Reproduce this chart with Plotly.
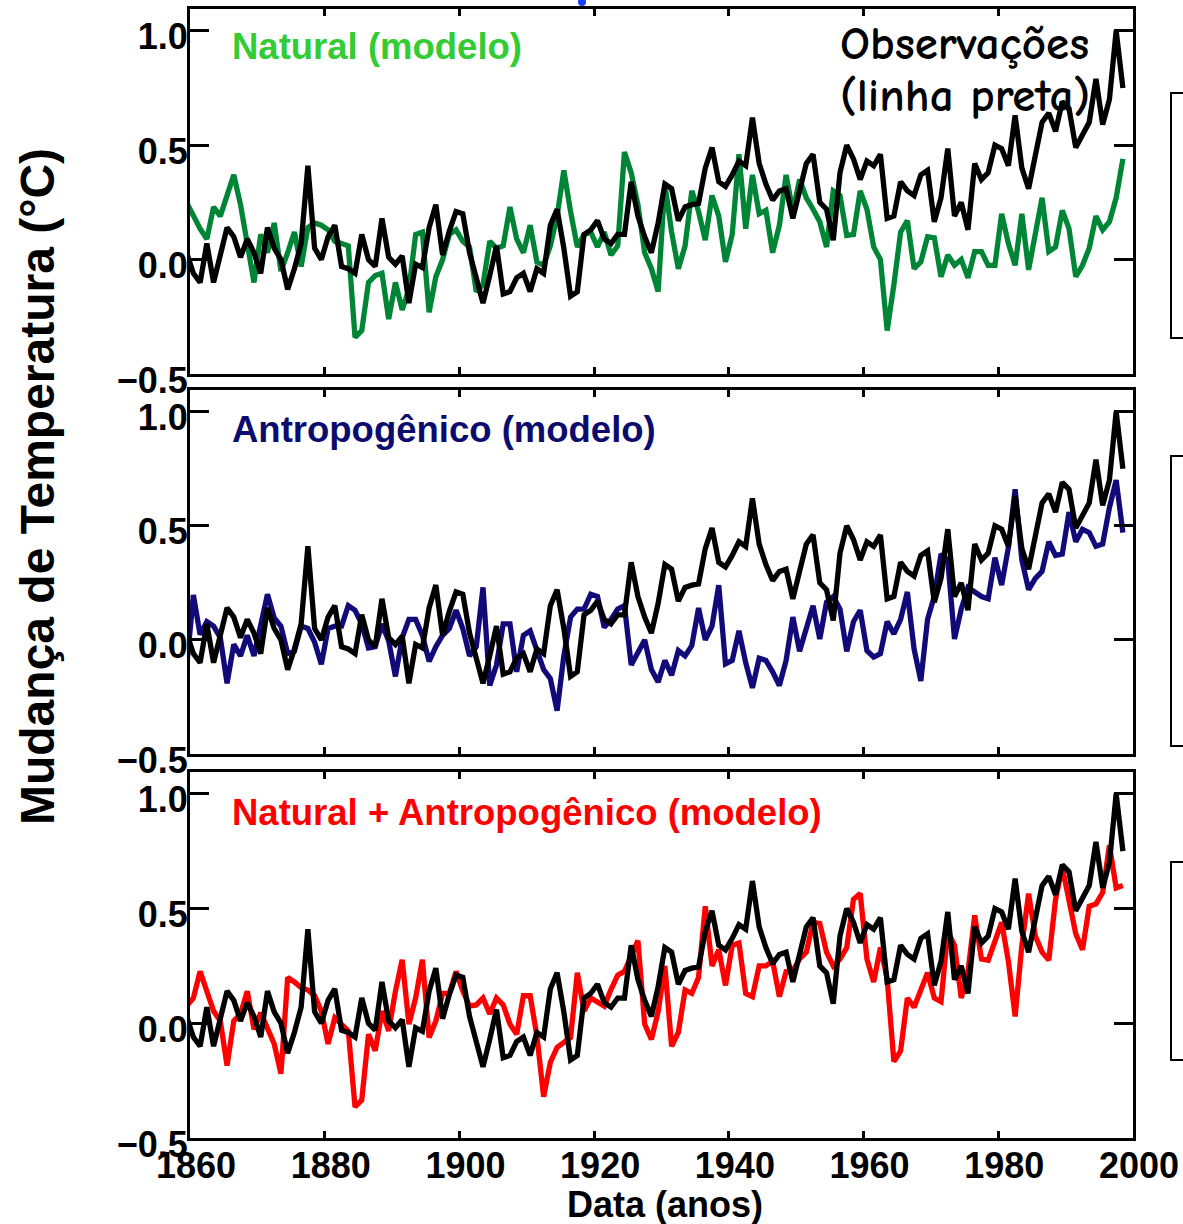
import plotly.graph_objects as go

# ---------------- data ----------------
years = list(range(1860, 2000))

observed = [
    0.03, -0.06, -0.10, 0.07, -0.10, 0.03, 0.14, 0.10, 0.01, 0.09,       # 1860-69
    0.03, -0.06, 0.14, 0.05, 0.00, -0.13, -0.04, 0.07, 0.41, 0.05,       # 1870-79
    0.00, 0.10, 0.15, -0.03, -0.04, -0.06, 0.11, 0.00, -0.03, 0.18,      # 1880-89
    0.01, -0.02, 0.016, -0.19, -0.02, -0.035, 0.14, 0.24, 0.02, 0.125,   # 1890-99
    0.21, 0.20, 0.03, -0.08, -0.19, -0.07, 0.06, -0.15, -0.14, -0.08,    # 1900-09
    -0.06, -0.14, -0.04, -0.06, 0.15, 0.22, 0.05, -0.16, -0.14, 0.11,    # 1910-19
    0.13, 0.17, 0.09, 0.07, 0.11, 0.11, 0.34, 0.19, 0.10, 0.03,          # 1920-29
    0.16, 0.33, 0.31, 0.17, 0.23, 0.24, 0.245, 0.40, 0.49, 0.34,         # 1930-39
    0.32, 0.37, 0.43, 0.41, 0.62, 0.42, 0.33, 0.26, 0.30, 0.31,          # 1940-49
    0.18, 0.30, 0.42, 0.46, 0.25, 0.22, 0.085, 0.38, 0.50, 0.44,         # 1950-59
    0.35, 0.43, 0.41, 0.46, 0.18, 0.19, 0.34, 0.30, 0.28, 0.37,          # 1960-69
    0.39, 0.165, 0.27, 0.485, 0.19, 0.25, 0.13, 0.42, 0.35, 0.38,        # 1970-79
    0.50, 0.485, 0.41, 0.63, 0.40, 0.31, 0.47, 0.60, 0.64, 0.56,         # 1980-89
    0.69, 0.66, 0.49, 0.54, 0.60, 0.79, 0.59, 0.70, 1.00, 0.75,          # 1990-99
]

natural = [
    0.25, 0.19, 0.135, 0.09, 0.23, 0.19, 0.28, 0.37, 0.24, 0.06,         # 1860-69
    -0.10, 0.11, 0.03, 0.16, -0.05, 0.03, 0.12, -0.03, 0.14, 0.16,       # 1870-79
    0.15, 0.13, 0.08, 0.07, 0.06, -0.34, -0.31, -0.10, -0.07, -0.06,     # 1880-89
    -0.26, -0.10, -0.22, -0.13, 0.11, 0.12, -0.23, -0.075, 0.00, 0.11,   # 1890-99
    0.13, 0.08, 0.055, -0.14, -0.11, 0.08, 0.05, 0.06, 0.23, 0.09,       # 1900-09
    0.03, 0.15, -0.01, -0.025, 0.06, 0.19, 0.39, 0.21, 0.055, 0.11,      # 1910-19
    0.12, 0.055, 0.12, 0.02, 0.06, 0.47, 0.38, 0.24, 0.03, -0.04,        # 1920-29
    -0.14, 0.33, 0.12, -0.04, 0.06, 0.30, 0.21, 0.085, 0.28, 0.19,       # 1930-39
    -0.01, 0.11, 0.46, 0.135, 0.37, 0.20, 0.215, 0.03, 0.15, 0.37,       # 1940-49
    0.21, 0.35, 0.27, 0.22, 0.165, 0.055, 0.30, 0.28, 0.105, 0.11,       # 1950-59
    0.30, 0.22, 0.055, 0.00, -0.31, -0.11, 0.12, 0.17, -0.04, -0.01,     # 1960-69
    0.10, 0.095, -0.075, 0.02, -0.025, 0.00, -0.08, 0.035, 0.035, -0.025,  # 1970-79
    -0.025, 0.20, 0.07, -0.025, 0.20, -0.045, 0.10, 0.27, 0.035, 0.055,  # 1980-89
    0.215, 0.135, -0.075, -0.025, 0.05, 0.19, 0.13, 0.165, 0.27, 0.44,   # 1990-99
]

anthropogenic = [
    -0.12, 0.197, 0.023, 0.08, 0.06, 0.01, -0.19, -0.02, -0.07, 0.02,    # 1860-69
    -0.07, 0.07, 0.20, 0.096, 0.06, -0.06, -0.05, 0.06, 0.05, -0.01,     # 1870-79
    -0.107, 0.05, 0.06, 0.06, 0.15, 0.13, 0.07, -0.035, -0.03, 0.07,     # 1880-89
    -0.005, -0.16, 0.01, 0.09, 0.09, 0.02, -0.094, -0.03, 0.02, 0.05,    # 1890-99
    0.13, 0.05, -0.07, -0.03, 0.23, -0.20, -0.11, 0.07, 0.07, -0.14,     # 1900-09
    0.02, 0.04, -0.04, -0.13, -0.17, -0.31, -0.07, 0.10, 0.135, 0.135,   # 1910-19
    0.20, 0.19, 0.055, 0.09, 0.135, 0.15, -0.11, -0.05, 0.00, -0.13,     # 1920-29
    -0.185, -0.09, -0.155, -0.047, -0.07, -0.025, 0.14, 0.00, 0.06, 0.24,  # 1930-39
    -0.105, -0.09, 0.04, -0.10, -0.21, -0.08, -0.09, -0.14, -0.20, -0.09,  # 1940-49
    0.10, -0.05, 0.05, 0.15, 0.004, 0.165, 0.19, 0.135, -0.05, 0.08,     # 1950-59
    0.13, -0.047, -0.075, -0.06, 0.08, 0.026, 0.09, 0.21, -0.04, -0.18,  # 1960-69
    0.09, 0.19, 0.376, 0.35, 0.004, 0.135, 0.23, 0.21, 0.19, 0.18,       # 1970-79
    0.36, 0.24, 0.405, 0.66, 0.35, 0.22, 0.27, 0.30, 0.43, 0.37,         # 1980-89
    0.376, 0.56, 0.43, 0.485, 0.47, 0.41, 0.42, 0.58, 0.70, 0.47,        # 1990-99
]

combined = [
    0.075, 0.11, 0.226, 0.14, 0.053, 0.01, -0.185, 0.01, 0.04, 0.14,     # 1860-69
    -0.026, 0.046, -0.026, -0.09, -0.22, 0.20, 0.18, 0.155, 0.145, 0.12,  # 1870-79
    0.053, -0.09, 0.024, -0.004, -0.033, -0.365, -0.335, -0.048, -0.12, 0.053,  # 1880-89
    -0.033, 0.14, 0.277, -0.004, 0.11, 0.277, -0.062, 0.01, 0.13, 0.13,  # 1890-99
    0.226, 0.14, 0.075, 0.08, 0.11, 0.04, 0.11, 0.08, -0.004, -0.048,    # 1900-09
    0.12, 0.12, -0.055, -0.32, -0.17, -0.105, -0.084, -0.062, 0.22, 0.053,  # 1910-19
    0.11, 0.09, 0.075, 0.147, 0.21, 0.226, 0.30, 0.36, -0.004, -0.07,    # 1920-29
    0.05, 0.25, -0.10, -0.04, 0.145, 0.13, 0.20, 0.51, 0.25, 0.32,       # 1930-39
    0.165, 0.34, 0.35, 0.13, 0.116, 0.25, 0.25, 0.27, 0.116, 0.225,      # 1940-49
    0.23, 0.28, 0.31, 0.44, 0.435, 0.31, 0.25, 0.28, 0.33, 0.54,         # 1950-59
    0.565, 0.28, 0.18, 0.33, 0.195, -0.167, -0.12, 0.11, 0.07, 0.14,     # 1960-69
    0.22, 0.11, 0.094, 0.40, 0.34, 0.11, 0.225, 0.47, 0.28, 0.275,       # 1970-79
    0.355, 0.44, 0.27, 0.03, 0.34, 0.565, 0.38, 0.31, 0.275, 0.54,       # 1980-89
    0.68, 0.53, 0.39, 0.32, 0.51, 0.52, 0.57, 0.775, 0.59, 0.60,         # 1990-99
]

for s in (observed, natural, anthropogenic, combined):
    assert len(s) == len(years), len(s)

panel_titles = ["Natural (modelo)", "Antropogênico (modelo)",
                "Natural + Antropogênico (modelo)"]
obs_lines = ["Observações", "(linha preta)"]
y_title = "Mudança de Temperatura (°C)"
x_title = "Data (anos)"

x_tick_vals = [1860, 1880, 1900, 1920, 1940, 1960, 1980, 2000]
y_tick_vals = [-0.5, 0.0, 0.5, 1.0]
y_tick_text = ["\u22120.5", "0.0", "0.5", "1.0"]

# ---------------- styling ----------------
W, H = 1183, 1224
L, R, T, B = 190, 50, 9, 86
PW, PH = W - L - R, H - T - B
X_RANGE = [1860, 2000]
Y_RANGE = [-0.5, 1.095]

def fx(px):
    return (px - L) / PW

def fy(py):
    return (H - B - py) / PH

panels_px = [(9, 374), (390, 754), (772, 1138)]   # top, bottom pixel rows
model_series = [natural, anthropogenic, combined]
model_colors = ["#008536", "#120A78", "#FF0000"]
title_colors = ["#33CC33", "#0C0C6E", "#FF0000"]
FONT = "Liberation Sans, Arial, sans-serif"
COMIC = "Comic Sans MS, Comic Neue, DejaVu Sans, sans-serif"
LW = 5.3

# annual means drawn half a year to the left, as in the reference
xpos = [y - 0.5 for y in years]

# data coordinates (panel 1) of the "Observações" label, from pixel spots
top1, bot1 = panels_px[0]
def data_x(px):
    return X_RANGE[0] + (px - L) / PW * (X_RANGE[1] - X_RANGE[0])

def data_y1(py):
    return Y_RANGE[0] + (bot1 - py) / (bot1 - top1) * (Y_RANGE[1] - Y_RANGE[0])

fig = go.Figure()
for i in range(3):
    xa = "x" if i == 0 else f"x{i + 1}"
    ya = "y" if i == 0 else f"y{i + 1}"
    fig.add_trace(go.Scatter(x=xpos, y=model_series[i], mode="lines",
                             line=dict(color=model_colors[i], width=LW),
                             xaxis=xa, yaxis=ya, showlegend=False,
                             hoverinfo="skip"))
    if i == 0:
        # label under the black line, as in the reference
        fig.add_trace(go.Scatter(
            x=[data_x(840), data_x(840)], y=[data_y1(47), data_y1(99)],
            text=obs_lines, mode="text", textposition="middle right",
            textfont=dict(family=COMIC, size=47, color="black", weight="bold"),
            cliponaxis=False, xaxis=xa, yaxis=ya, showlegend=False,
            hoverinfo="skip"))
    fig.add_trace(go.Scatter(x=xpos, y=observed, mode="lines",
                             line=dict(color="black", width=LW),
                             xaxis=xa, yaxis=ya, showlegend=False,
                             hoverinfo="skip"))

layout = dict(
    width=W, height=H,
    margin=dict(l=L, r=R, t=T, b=B, pad=0, autoexpand=False),
    paper_bgcolor="white", plot_bgcolor="white",
    showlegend=False,
)

for i, (top, bot) in enumerate(panels_px):
    xk = "xaxis" if i == 0 else f"xaxis{i + 1}"
    yk = "yaxis" if i == 0 else f"yaxis{i + 1}"
    ya = "y" if i == 0 else f"y{i + 1}"
    xa = "x" if i == 0 else f"x{i + 1}"
    layout[xk] = dict(
        anchor=ya, domain=[0, 1], range=X_RANGE, automargin=False,
        tickvals=x_tick_vals, ticks="inside", ticklen=7, tickwidth=2.5,
        tickcolor="black", showline=True, linewidth=3, linecolor="black",
        mirror="ticks", showgrid=False, zeroline=False,
        showticklabels=(i == 2), ticklabelshift=6, ticklabelstandoff=-6,
        tickfont=dict(family=FONT, size=36, color="black", weight="bold"),
    )
    layout[yk] = dict(
        anchor=xa, domain=[fy(bot), fy(top)], range=Y_RANGE,
        automargin=False,
        tickvals=y_tick_vals, ticktext=y_tick_text,
        ticks="inside", ticklen=19, tickwidth=2.5, tickcolor="black",
        showline=True, linewidth=3, linecolor="black", mirror="ticks",
        showgrid=False, zeroline=False, ticklabelshift=6,
        ticklabelstandoff=-8,
        tickfont=dict(family=FONT, size=36, color="black", weight="bold"),
    )

fig.update_layout(**layout)

annotations = []
title_rows = [47, 429, 812]
for i in range(3):
    annotations.append(dict(
        text=panel_titles[i], xref="paper", yref="paper",
        x=fx(230), y=fy(title_rows[i]), xanchor="left", yanchor="middle",
        showarrow=False,
        font=dict(family=FONT, size=36.5, color=title_colors[i], weight="bold"),
    ))
annotations.append(dict(
    text=y_title, xref="paper", yref="paper", x=fx(38), y=fy(487),
    xanchor="center", yanchor="middle", textangle=-90, showarrow=False,
    font=dict(family=FONT, size=48, color="black", weight="bold"),
))
annotations.append(dict(
    text=x_title, xref="paper", yref="paper", x=fx(665), y=fy(1204),
    xanchor="center", yanchor="middle", showarrow=False,
    font=dict(family=FONT, size=36, color="black", weight="bold"),
))
fig.update_layout(annotations=annotations)

# partial frames of neighbouring panels cut by the right edge, and a blue dot
shapes = []
for top, bot in [(93, 338), (456, 746), (862, 1060)]:
    shapes.append(dict(type="rect", xref="paper", yref="paper",
                       x0=fx(1171), x1=fx(1200), y0=fy(bot), y1=fy(top),
                       line=dict(color="black", width=2), fillcolor="rgba(0,0,0,0)"))
shapes.append(dict(type="circle", xref="paper", yref="paper",
                   x0=fx(578), x1=fx(586), y0=fy(6), y1=fy(-2),
                   line=dict(color="#1A3CFF", width=0), fillcolor="#1A3CFF"))
fig.update_layout(shapes=shapes)

fig.write_html("out.html", include_plotlyjs=True,
               config={"displayModeBar": False},
               post_script="document.body.style.margin='0';document.body.style.overflow='hidden';")
